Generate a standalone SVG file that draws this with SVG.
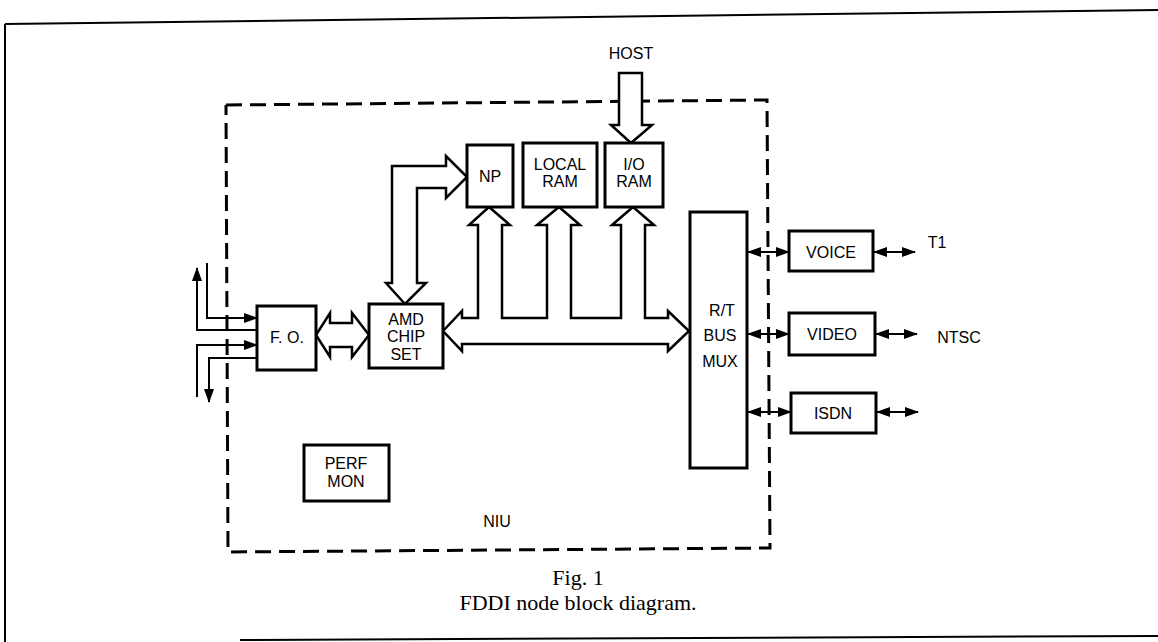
<svg xmlns="http://www.w3.org/2000/svg" width="1158" height="642" viewBox="0 0 1158 642">
<defs>
<style>
.box{fill:#fff;stroke:#000;stroke-width:3}
.wide{fill:#fff;stroke:#000;stroke-width:2.5;stroke-linejoin:miter}
.thin{fill:none;stroke:#000;stroke-width:2}
.lbl{font-family:"Liberation Sans",Arial,sans-serif;font-size:16px;fill:#000;text-anchor:middle}
.cap{font-family:"Liberation Serif","Times New Roman",serif;font-size:22px;fill:#000;text-anchor:middle}
.frame{fill:none;stroke:#000;stroke-width:2}
.dash{fill:none;stroke:#000;stroke-width:3;stroke-dasharray:16 8}
</style>
<marker id="ah" viewBox="0 0 14 10" refX="13" refY="5" markerWidth="14" markerHeight="10" markerUnits="userSpaceOnUse" orient="auto-start-reverse">
<path d="M0,0 L14,5 L0,10 z" fill="#000"/>
</marker>
</defs>
<rect width="1158" height="642" fill="#fff"/>
<g id="frame">
<line class="frame" x1="5" y1="24" x2="1158" y2="10"/>
<line class="frame" x1="5" y1="24" x2="5" y2="642"/>
<line class="frame" x1="240" y1="640" x2="1158" y2="636"/>
</g>
<g id="niu-boundary">
<polyline class="dash" points="226,105 767,100 770,548 228,552 226,105"/>
<text class="lbl" x="497" y="527">NIU</text>
</g>
<g id="connectors">
<path class="wide" d="M631,143 L611,125 L619,125 L619,73 L642,73 L642,125 L652,125 Z"/>
<path class="wide" d="M467,177 L446,156 L446,166 L392,166 L392,283 L386,283 L405,304 L426,283 L417,283 L417,188 L446,188 L446,198 Z"/>
<path class="wide" d="M316,335 L330,313 L330,323 L352,323 L352,313 L369,335 L352,357 L352,347 L330,347 L330,357 Z"/>
<path class="wide" d="M443,331 L462,311 L462,318 L478,318 L478,225 L469,225 L489,207 L510,225 L502,225 L502,318 L547,318 L547,225 L537,225 L559,207 L580,225 L571,225 L571,318 L621,318 L621,225 L612,225 L633,207 L654,225 L645,225 L645,318 L668,318 L668,311 L689,331 L668,351 L668,344 L462,344 L462,351 Z"/>
<polyline class="thin" points="257,330 197,330 197,268" marker-end="url(#ah)"/>
<polyline class="thin" points="207,263 207,318 257,318" marker-end="url(#ah)"/>
<polyline class="thin" points="197,397 197,345 257,345" marker-end="url(#ah)"/>
<polyline class="thin" points="257,358 209,358 209,402" marker-end="url(#ah)"/>
<line class="thin" x1="748" y1="252" x2="789" y2="252" marker-start="url(#ah)" marker-end="url(#ah)"/>
<line class="thin" x1="748" y1="334" x2="789" y2="334" marker-start="url(#ah)" marker-end="url(#ah)"/>
<line class="thin" x1="748" y1="412" x2="791" y2="412" marker-start="url(#ah)" marker-end="url(#ah)"/>
<line class="thin" x1="874" y1="252" x2="915" y2="252" marker-start="url(#ah)" marker-end="url(#ah)"/>
<line class="thin" x1="876" y1="334" x2="917" y2="334" marker-start="url(#ah)" marker-end="url(#ah)"/>
<line class="thin" x1="877" y1="412" x2="918" y2="412" marker-start="url(#ah)" marker-end="url(#ah)"/>
</g>
<g id="host"><text class="lbl" x="631" y="59" font-size="14">HOST</text></g>
<g id="np"><rect class="box" x="467" y="145" width="46" height="62"/><text class="lbl" x="490" y="182">NP</text></g>
<g id="local-ram"><rect class="box" x="523" y="143" width="74" height="64"/><text class="lbl" x="560" y="170">LOCAL</text><text class="lbl" x="560" y="187">RAM</text></g>
<g id="io-ram"><rect class="box" x="605" y="143" width="58" height="64"/><text class="lbl" x="634" y="170">I/O</text><text class="lbl" x="634" y="187">RAM</text></g>
<g id="fo"><rect class="box" x="257" y="306" width="59" height="64"/><text class="lbl" x="287" y="343">F. O.</text></g>
<g id="amd"><rect class="box" x="369" y="304" width="74" height="64"/><text class="lbl" x="406" y="325">AMD</text><text class="lbl" x="406" y="342">CHIP</text><text class="lbl" x="406" y="360">SET</text></g>
<g id="mux"><rect class="box" x="690" y="212" width="57" height="256"/><text class="lbl" x="722" y="316">R/T</text><text class="lbl" x="720" y="341">BUS</text><text class="lbl" x="720" y="367">MUX</text></g>
<g id="voice"><rect class="box" x="789" y="231" width="84" height="40"/><text class="lbl" x="831" y="258">VOICE</text></g>
<g id="video"><rect class="box" x="789" y="313" width="86" height="42"/><text class="lbl" x="832" y="340">VIDEO</text></g>
<g id="isdn"><rect class="box" x="791" y="393" width="85" height="40"/><text class="lbl" x="833" y="419">ISDN</text></g>
<g id="perf-mon"><rect class="box" x="304" y="445" width="85" height="56"/><text class="lbl" x="346" y="469">PERF</text><text class="lbl" x="346" y="487">MON</text></g>
<g id="t1"><text class="lbl" x="937" y="248">T1</text></g>
<g id="ntsc"><text class="lbl" x="959" y="343">NTSC</text></g>
<g id="caption"><text class="cap" x="578" y="585">Fig. 1</text><text class="cap" x="578" y="610">FDDI node block diagram.</text></g>
</svg>
